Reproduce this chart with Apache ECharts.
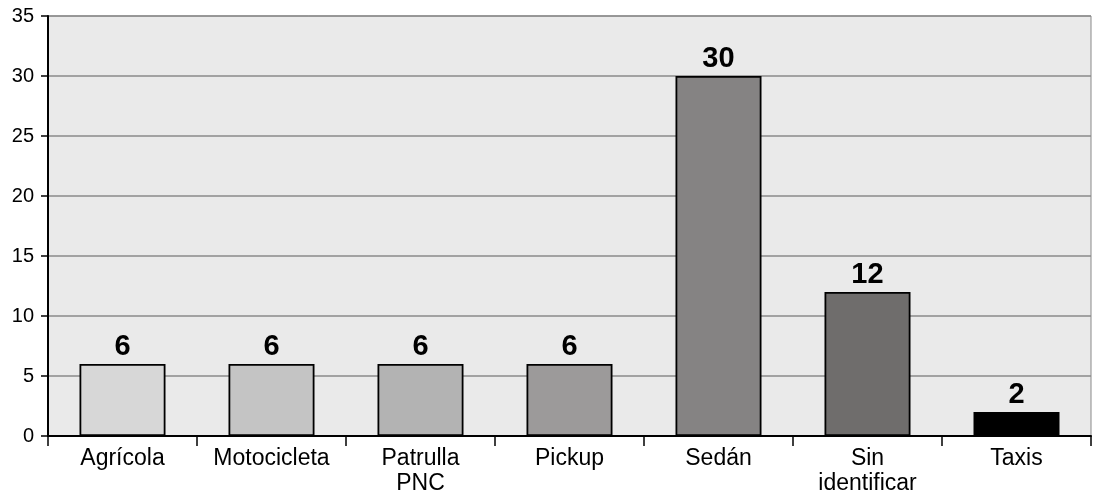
<!DOCTYPE html>
<html>
<head>
<meta charset="utf-8">
<script src="https://cdn.jsdelivr.net/npm/echarts@6/dist/echarts.min.js"></script>
<style>
html,body{margin:0;padding:0;background:#fff;}
#chart{width:1093px;height:496px;}
</style>
</head>
<body>
<div id="chart"></div>
<script>
const categories = ['Agrícola', 'Motocicleta', 'Patrulla\nPNC', 'Pickup', 'Sedán', 'Sin\nidentificar', 'Taxis'];
const values = [6, 6, 6, 6, 30, 12, 2];
const barColors = ['#d7d7d7', '#c4c4c4', '#b3b3b3', '#9c9a9a', '#858383', '#6f6d6c', '#000000'];
const yTicks = { min: 0, max: 35, interval: 5 };

const chart = echarts.init(document.getElementById('chart'));
const font = 'Liberation Sans, Arial, sans-serif';
chart.setOption({
  animation: false,
  grid: {
    left: 48, right: 2, top: 16, bottom: 58,
    show: true, backgroundColor: '#eaeaea', borderColor: '#8a8a8a', borderWidth: 1
  },
  xAxis: {
    type: 'category',
    data: categories,
    axisLine: { lineStyle: { color: '#000', width: 2 } },
    axisTick: { show: true, interval: 0, length: 10, lineStyle: { color: '#000', width: 1.5 } },
    axisLabel: { interval: 0, color: '#000', fontSize: 23, fontFamily: font, margin: 10, lineHeight: 25 }
  },
  yAxis: {
    type: 'value',
    min: yTicks.min, max: yTicks.max, interval: yTicks.interval,
    axisLine: { show: true, lineStyle: { color: '#000', width: 2 } },
    axisTick: { show: true, length: 7, lineStyle: { color: '#000', width: 1.5 } },
    axisLabel: { color: '#000', fontSize: 20, fontFamily: font, margin: 14 },
    splitLine: { show: true, lineStyle: { color: '#8a8a8a', width: 1.5 } }
  },
  series: [{
    type: 'bar',
    barWidth: 86,
    data: values.map((v, i) => ({
      value: v,
      itemStyle: { color: barColors[i], borderColor: '#000', borderWidth: 1.8 }
    })),
    label: {
      show: true, position: 'top', distance: 3,
      color: '#000', fontSize: 29, fontWeight: 'bold', fontFamily: font
    }
  }]
});
</script>
</body>
</html>
